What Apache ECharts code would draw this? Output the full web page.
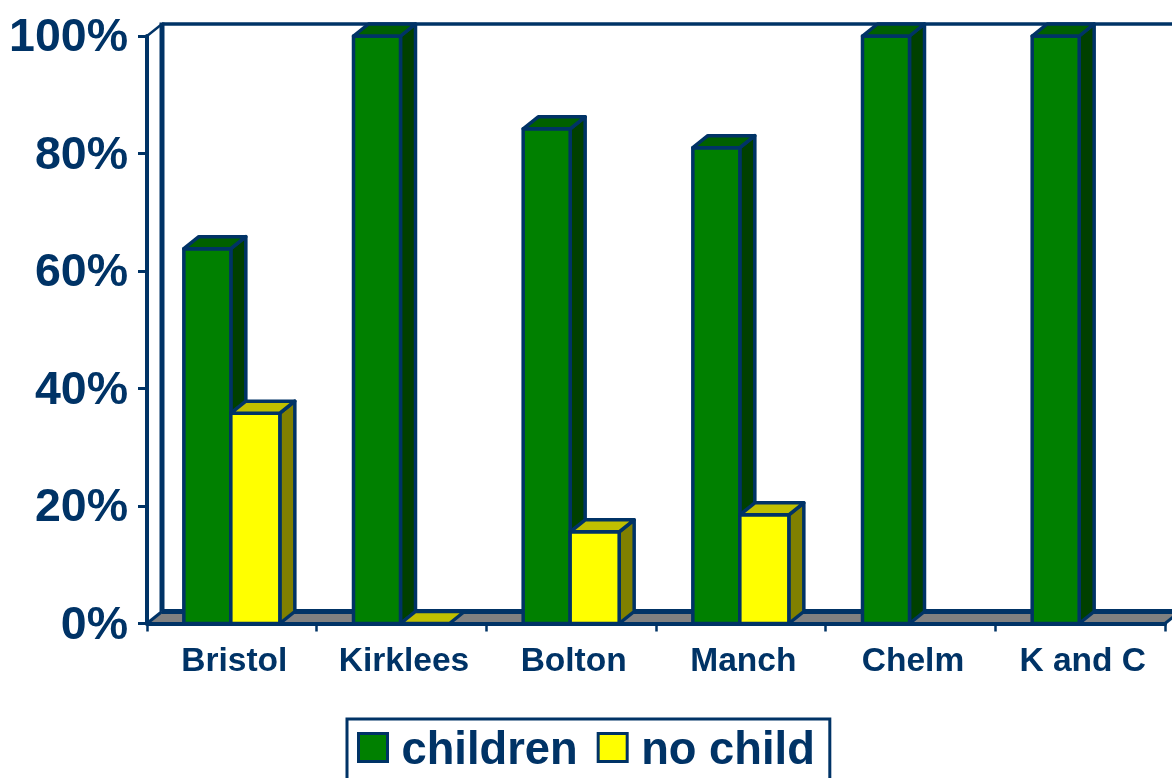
<!DOCTYPE html>
<html><head><meta charset="utf-8">
<style>html,body{margin:0;padding:0;background:#fff;overflow:hidden}#c{width:1172px;height:778px}</style>
<script src="https://cdn.jsdelivr.net/npm/echarts@6/dist/echarts.min.js"></script></head>
<body><div id="c"></div>
<script>
var categories=['Bristol','Kirklees','Bolton','Manch','Chelm','K and C'];
var children=[63.8,100,84.2,81,100,100];
var noChild=[35.8,0,15.6,18.5,null,null];
var NAVY='#003366',DX=15,DY=12;
function poly(pts,fill,lw){return {type:'polygon',shape:{points:pts},style:{fill:fill,stroke:NAVY,lineWidth:lw||3.5,lineJoin:'round'}};}
function barItem(off,width,front,side,top){
  return function(params,api){
    if(api.value(1)==null||isNaN(api.value(1))) return null;
    var c=api.coord([api.value(0),api.value(1)]),b=api.coord([api.value(0),0]);
    var x0=c[0]+off,x1=x0+width,y=c[1],yb=b[1];
    var ch=[];
    if(yb-y>0.5){
      ch.push(poly([[x1,y],[x1+DX,y-DY],[x1+DX,yb-DY],[x1,yb]],side));
      ch.push(poly([[x0,y],[x1,y],[x1,yb],[x0,yb]],front));
    }
    ch.push(poly([[x0,y],[x0+DX,y-DY],[x1+DX,y-DY],[x1,y]],top));
    return {type:'group',children:ch};
  };
}
function wallItem(params,api){
  var s=params.coordSys,L=s.x,R=s.x+s.width,T=s.y,B=s.y+s.height;
  var W=1172+20;
  return {type:'group',silent:true,children:[
    {type:'polygon',shape:{points:[[L,B],[L+DX,B-DY],[R+DX,B-DY],[R,B]]},style:{fill:'#808080'}},
    {type:'line',shape:{x1:L+DX,y1:B-DY,x2:W,y2:B-DY},style:{stroke:NAVY,lineWidth:5}},
    {type:'line',shape:{x1:L,y1:B,x2:L+DX,y2:B-DY},style:{stroke:NAVY,lineWidth:3}},
    {type:'line',shape:{x1:R,y1:B,x2:R+DX,y2:B-DY},style:{stroke:NAVY,lineWidth:3}},
    {type:'line',shape:{x1:L+DX,y1:T-DY-1.5,x2:L+DX,y2:B-DY},style:{stroke:NAVY,lineWidth:5}},
    {type:'line',shape:{x1:L+DX,y1:T-DY,x2:W,y2:T-DY},style:{stroke:NAVY,lineWidth:3.5}},
    {type:'line',shape:{x1:L,y1:T,x2:L+DX,y2:T-DY},style:{stroke:NAVY,lineWidth:2.5}}
  ]};
}
var legendRich={a:{color:NAVY,fontFamily:'Liberation Sans',fontWeight:'bold',fontSize:45.3,padding:[9,0,0,9]}};
var chart=echarts.init(document.getElementById('c'),null,{renderer:'canvas'});
chart.setOption({
  animation:false,
  backgroundColor:'#fff',
  grid:{left:147,top:36,width:1018,height:587.5},
  legend:{left:347,top:719,padding:[10.5,15,30,10],orient:'horizontal',itemWidth:29,itemHeight:28,itemGap:19,
    borderColor:NAVY,borderWidth:3,backgroundColor:'#fff',
    formatter:'{a|{name}}',
    textStyle:{rich:legendRich},
    data:[{name:'children',icon:'rect',itemStyle:{color:'#008000',borderColor:NAVY,borderWidth:3}},
          {name:'no child',icon:'rect',itemStyle:{color:'#ffff00',borderColor:NAVY,borderWidth:3}}]},
  xAxis:{type:'category',data:categories,boundaryGap:true,z:5,
    axisLine:{show:true,lineStyle:{color:NAVY,width:4}},
    axisTick:{show:true,alignWithLabel:false,length:8,lineStyle:{color:NAVY,width:2.5}},
    axisLabel:{color:NAVY,fontFamily:'Liberation Sans',fontWeight:'bold',fontSize:33.5,margin:21,padding:[0,0,0,5]}},
  yAxis:{type:'value',min:0,max:100,interval:20,
    axisLine:{show:true,lineStyle:{color:NAVY,width:4}},
    axisTick:{show:true,length:9,lineStyle:{color:NAVY,width:3}},
    splitLine:{show:false},
    axisLabel:{color:NAVY,fontFamily:'Liberation Sans',fontWeight:'bold',fontSize:46.5,margin:19,verticalAlign:'top',padding:[-21,0,0,0],formatter:'{value}%'}},
  series:[
    {type:'custom',name:'wall',silent:true,clip:false,z:1,data:[[0,0]],renderItem:wallItem,encode:{x:0,y:1}},
    {type:'custom',name:'children',clip:false,z:3,data:children.map(function(v,i){return [i,v];}),
      itemStyle:{color:'#008000'},encode:{x:0,y:1},renderItem:barItem(-48,47,'#008000','#004000','#006000')},
    {type:'custom',name:'no child',clip:false,z:4,data:noChild.map(function(v,i){return [i,v];}),
      itemStyle:{color:'#ffff00'},encode:{x:0,y:1},renderItem:barItem(-1,49,'#ffff00','#808000','#c0c000')}
  ]
});
</script></body></html>
